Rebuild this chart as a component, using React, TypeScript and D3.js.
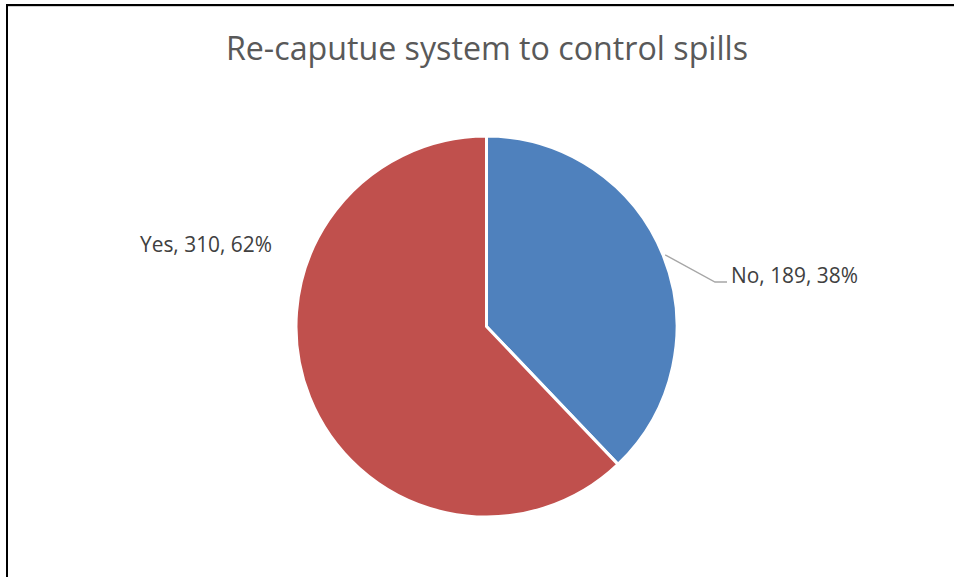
import React from "react";
import * as d3 from "d3";

const categories = ["No", "Yes"];
const values = [189, 310];
const colors = ["#4F81BD", "#C0504D"];
const title = "Re-caputue system to control spills";

export default function App() {
  const W = 954, H = 577;
  const cx = 486.5, cy = 326.5, r = 190.5;
  const total = d3.sum(values);
  const pie = d3.pie<number>().sort(null).value((d) => d)(values);
  const arc = d3.arc<d3.PieArcDatum<number>>().innerRadius(0).outerRadius(r);
  const pct = (v: number) => Math.round((v / total) * 100) + "%";
  const font = "'Open Sans', sans-serif";

  const noAngle = (pie[0].startAngle + pie[0].endAngle) / 2;
  const lineStart = [cx + Math.sin(noAngle) * (r + 2), cy - Math.cos(noAngle) * (r + 2)];

  return (
    <svg width={W} height={H} style={{ position: "absolute", left: 0, top: 0 }}>
      <rect x={0} y={0} width={W} height={H} fill="#fff" />
      <line x1={7} y1={5} x2={W} y2={5} stroke="#000" strokeWidth={2} />
      <line x1={8} y1={6.5} x2={W} y2={6.5} stroke="#d0d0d0" strokeWidth={1} />
      <line x1={7} y1={4} x2={7} y2={H} stroke="#000" strokeWidth={2} />
      <text x={487} y={60} textAnchor="middle" fontFamily={font} fontSize={32.2} fill="#595959">
        {title}
      </text>
      <g transform={`translate(${cx},${cy})`}>
        {pie.map((p, i) => (
          <path key={categories[i]} d={arc(p) || ""} fill={colors[i]} stroke="#fff" strokeWidth={3} strokeLinejoin="round" />
        ))}
      </g>
      <polyline
        points={`${lineStart[0]},${lineStart[1]} 715,282 727,282`}
        fill="none"
        stroke="#a6a6a6"
        strokeWidth={1.3}
      />
      <text x={731} y={283} fontFamily={font} fontSize={20.9} fill="#404040">
        {`${categories[0]}, ${values[0]}, ${pct(values[0])}`}
      </text>
      <text x={140} y={252} fontFamily={font} fontSize={20.9} fill="#404040">
        {`${categories[1]}, ${values[1]}, ${pct(values[1])}`}
      </text>
    </svg>
  );
}
